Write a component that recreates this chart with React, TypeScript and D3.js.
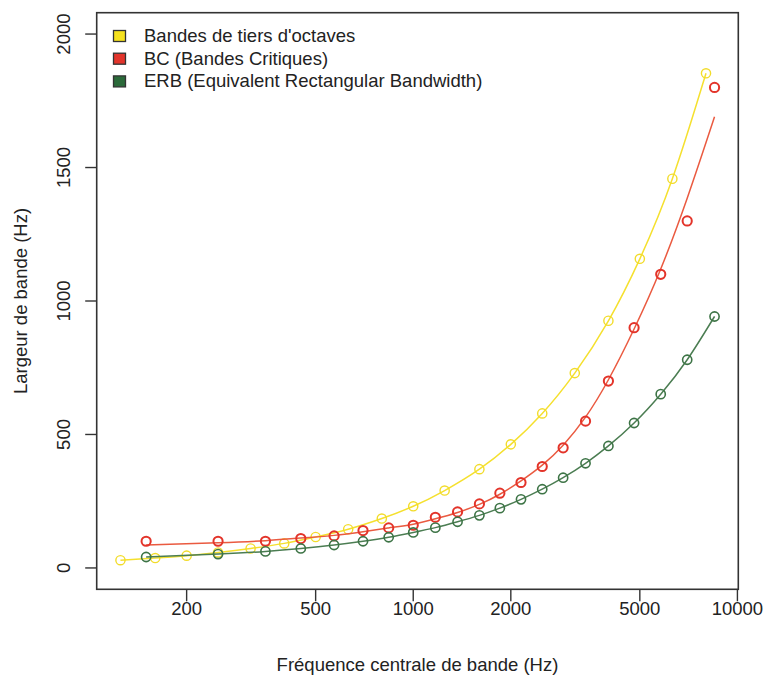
import React from "react";
import * as d3 from "d3";

// Third-octave bands: centre frequency (Hz) and bandwidth (Hz)
const octFreq = [125, 160, 200, 250, 315, 400, 500, 630, 800, 1000, 1250, 1600, 2000, 2500, 3150, 4000, 5000, 6300, 8000];
const octBw = [29, 37, 46, 58, 73, 92, 116, 145, 185, 231, 290, 370, 463, 579, 730, 926, 1158, 1458, 1853];

// Critical bands (BC)
const bcFreq = [150, 250, 350, 450, 570, 700, 840, 1000, 1170, 1370, 1600, 1850, 2150, 2500, 2900, 3400, 4000, 4800, 5800, 7000, 8500];
const bcBw = [100, 100, 100, 110, 120, 140, 150, 160, 190, 210, 240, 280, 320, 380, 450, 550, 700, 900, 1100, 1300, 1800];
// Fitted curve for BC
const bcFit = [86, 94, 102, 112, 122, 136, 150, 164, 184, 208, 238, 276, 326, 385, 460, 565, 705, 895, 1120, 1385, 1690];

// ERB
const erbFreq = [150, 250, 350, 450, 570, 700, 840, 1000, 1170, 1370, 1600, 1850, 2150, 2500, 2900, 3400, 4000, 4800, 5800, 7000, 8500];
const erbBw = [41, 52, 62, 73, 86, 100, 115, 133, 151, 173, 197, 224, 257, 295, 338, 392, 457, 543, 651, 780, 942];

const xTicks = [200, 500, 1000, 2000, 5000, 10000];
const yTicks = [0, 500, 1000, 1500, 2000];

const legendLabels = [
  "Bandes de tiers d'octaves",
  "BC (Bandes Critiques)",
  "ERB (Equivalent Rectangular Bandwidth)",
];
const legendFills = ["#f5e11e", "#e2342b", "#2b6a3a"];

const FONT = "'Liberation Sans', Arial, Helvetica, sans-serif";

export default function App() {
  const left = 96.7, right = 738.3, top = 12.7, bottom = 589.3;
  const lo = Math.log10(125), hi = Math.log10(8500), d = hi - lo;
  const x = d3.scaleLog().domain([Math.pow(10, lo - 0.04 * d), Math.pow(10, hi + 0.04 * d)]).range([left, right]);
  const y = d3.scaleLinear().domain([-80, 2080]).range([bottom, top]);

  const line = d3
    .line<[number, number]>()
    .x((p) => x(p[0]))
    .y((p) => y(p[1]))
    .curve(d3.curveNatural);

  const zip = (a: number[], b: number[]) => a.map((v, i) => [v, b[i]] as [number, number]);

  const series = [
    { pts: zip(octFreq, octBw), fit: zip(octFreq, octBw), pc: "#f2dc2a", lc: "#f5e02e", sw: 1.4 },
    { pts: zip(bcFreq, bcBw), fit: zip(bcFreq, bcFit), pc: "#e3342a", lc: "#ea5a40", sw: 2 },
    { pts: zip(erbFreq, erbBw), fit: zip(erbFreq, erbBw), pc: "#3d7446", lc: "#4b7d52", sw: 1.6 },
  ];

  const textColor = "#222";
  const fs = 18.5;

  return (
    <svg width={765} height={680} style={{ position: "absolute", left: 0, top: 0, background: "#fff" }} fontFamily={FONT}>
      <rect x={0} y={0} width={765} height={680} fill="#fff" />
      {series.map((s, i) => (
        <g key={i}>
          <path d={line(s.fit) || ""} fill="none" stroke={s.lc} strokeWidth={1.5} />
          {s.pts.map((p, j) => (
            <circle key={j} cx={x(p[0])} cy={y(p[1])} r={4.6} fill="none" stroke={s.pc} strokeWidth={s.sw} />
          ))}
        </g>
      ))}
      <rect x={left} y={top} width={right - left} height={bottom - top} fill="none" stroke="#333" strokeWidth={1.6} />
      {xTicks.map((t) => (
        <g key={t}>
          <line x1={x(t)} x2={x(t)} y1={bottom} y2={bottom + 12} stroke="#333" strokeWidth={1.4} />
          <text x={x(t)} y={615} textAnchor="middle" fontSize={fs} fill={textColor}>
            {t}
          </text>
        </g>
      ))}
      {yTicks.map((t) => (
        <g key={t}>
          <line x1={left - 11.5} x2={left} y1={y(t)} y2={y(t)} stroke="#333" strokeWidth={1.4} />
          <text transform={`translate(70.4,${y(t)}) rotate(-90)`} textAnchor="middle" fontSize={fs} fill={textColor}>
            {t}
          </text>
        </g>
      ))}
      <text x={(left + right) / 2} y={671} textAnchor="middle" fontSize={fs} fill={textColor}>
        Fréquence centrale de bande (Hz)
      </text>
      <text transform={`translate(26.5,${(top + bottom) / 2}) rotate(-90)`} textAnchor="middle" fontSize={fs} fill={textColor}>
        Largeur de bande (Hz)
      </text>
      {legendLabels.map((lab, i) => (
        <g key={lab}>
          <rect x={113.5} y={30.5 + i * 22.7} width={12} height={11} fill={legendFills[i]} stroke="#333" strokeWidth={1.3} />
          <text x={144} y={42 + i * 22.7} fontSize={fs} fill={textColor}>
            {lab}
          </text>
        </g>
      ))}
    </svg>
  );
}
